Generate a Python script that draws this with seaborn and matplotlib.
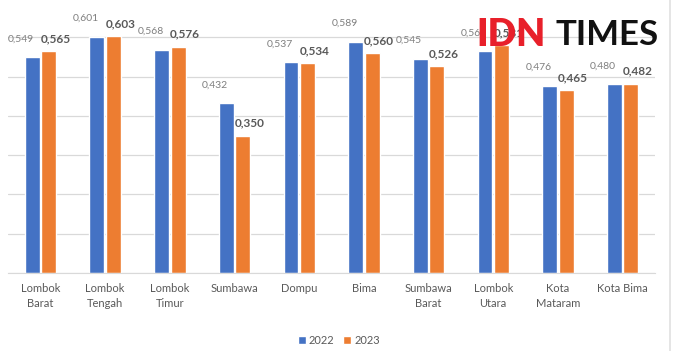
import numpy as np
import pandas as pd
import matplotlib
matplotlib.use("Agg")
import matplotlib.pyplot as plt
import seaborn as sns
from matplotlib.patches import Patch
from matplotlib.lines import Line2D

regions = ["Lombok\nBarat", "Lombok\nTengah", "Lombok\nTimur", "Sumbawa", "Dompu",
           "Bima", "Sumbawa\nBarat", "Lombok\nUtara", "Kota\nMataram", "Kota Bima"]
years = ["2022", "2023"]
val_2022 = [0.549, 0.601, 0.568, 0.432, 0.537, 0.589, 0.545, 0.564, 0.476, 0.480]
val_2023 = [0.565, 0.603, 0.576, 0.350, 0.534, 0.560, 0.526, 0.581, 0.465, 0.482]

colors = {"2022": "#4472C4", "2023": "#ED7D31"}

df = pd.DataFrame({
    "region": regions * 2,
    "year": ["2022"] * len(regions) + ["2023"] * len(regions),
    "value": val_2022 + val_2023,
})

sns.set_style("white")
plt.rcParams["font.family"] = ["Lato", "DejaVu Sans"]

fig = plt.figure(figsize=(6.78, 3.51), dpi=100)
ax = fig.add_axes([0.012, 0.222, 0.954, 0.778])

sns.barplot(data=df, x="region", y="value", hue="year", order=regions,
            hue_order=years, palette=colors, width=0.51, gap=0.1,
            saturation=1, legend=False, ax=ax, zorder=2)

ax.set_ylim(0, 0.695)
ax.set_yticks(np.arange(0, 0.61, 0.1))
ax.yaxis.grid(True, color="#D9D9D9", linewidth=0.9, zorder=0)
ax.set_yticklabels([])
ax.tick_params(axis="y", length=0)
ax.tick_params(axis="x", length=0, pad=7, labelsize=8, labelcolor="#595959")
for lbl in ax.get_xticklabels():
    lbl.set_linespacing(1.45)
ax.set_xlabel("")
ax.set_ylabel("")
for s in ["top", "right", "left"]:
    ax.spines[s].set_visible(False)
ax.spines["bottom"].set_color("#D9D9D9")

# value labels
for container, yr in zip(ax.containers, years):
    for bar in container:
        v = bar.get_height()
        cx = bar.get_x() + bar.get_width() / 2
        txt = f"{v:.3f}".replace(".", ",")
        if yr == "2022":
            ax.annotate(txt, (cx, v), xytext=(-8, 10), textcoords="offset points",
                        ha="center", va="bottom", fontsize=7.5, color="#7F7F7F",
                        zorder=3)
        else:
            ax.annotate(txt, (cx, v), xytext=(5, 5), textcoords="offset points",
                        ha="center", va="bottom", fontsize=8.5, fontweight="bold",
                        color="#595959", zorder=3)

handles = [Patch(facecolor=colors[y], label=y) for y in years]
fig.legend(handles=handles, loc="lower center", bbox_to_anchor=(0.5, -0.015), ncol=2,
           frameon=False, fontsize=8, handlelength=0.7, handleheight=0.7,
           handletextpad=0.3, columnspacing=0.8, labelcolor="#595959")

# right frame line
fig.add_artist(Line2D([0.988, 0.988], [0, 1], color="#E0E0E0", linewidth=1.2,
                      transform=fig.transFigure))

# watermark
fig.text(0.703, 0.9, "IDN", color="#E8202A", fontsize=27, fontweight="heavy",
         ha="left", va="center", zorder=10)
fig.text(0.82, 0.9, "TIMES", color="#111111", fontsize=25, fontweight="bold",
         ha="left", va="center", zorder=10)

fig.savefig("out.png", dpi=100)
